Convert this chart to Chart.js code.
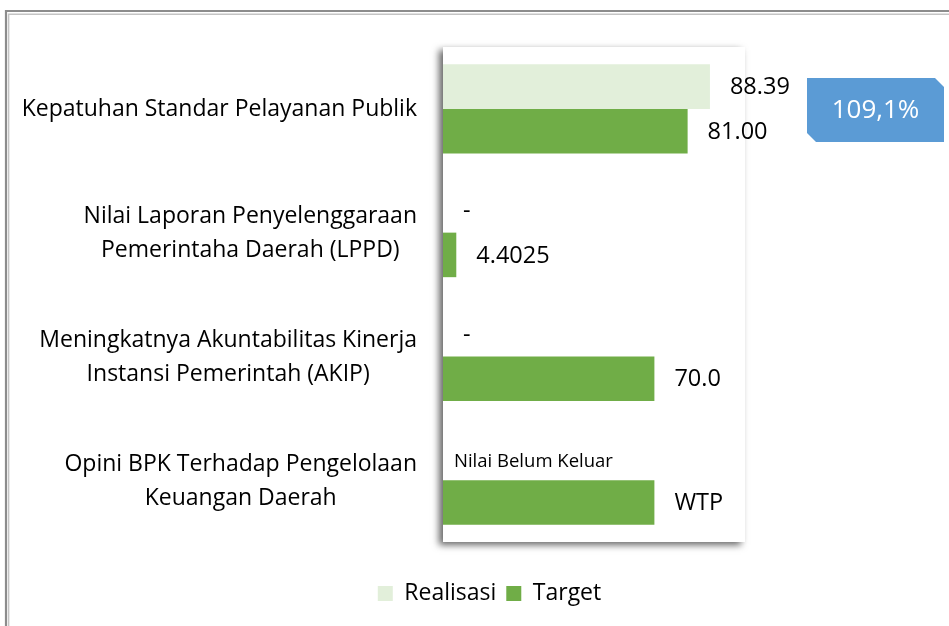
<!DOCTYPE html>
<html>
<head>
<meta charset="utf-8">
<script src="https://cdn.jsdelivr.net/npm/chart.js@4"></script>
<style>
  body { margin: 0; background: #fff; }
  #wrap { width: 949px; height: 626px; position: relative; }
</style>
</head>
<body>
<div id="wrap"><canvas id="chart"></canvas></div>
<script>
let categories = [
    ['Kepatuhan Standar Pelayanan Publik'],
    ['Nilai Laporan Penyelenggaraan', 'Pemerintaha Daerah (LPPD)'],
    ['Meningkatnya Akuntabilitas Kinerja', 'Instansi Pemerintah (AKIP)'],
    ['Opini BPK Terhadap Pengelolaan', 'Keuangan Daerah']
];
let realisasiValues = [88.39, 0, 0, 0];
let targetValues = [81, 4.4025, 70, 70];
let realisasiLabels = ['88.39', '-', '-', 'Nilai Belum Keluar'];
let targetLabels = ['81.00', '4.4025', '70.0', 'WTP'];
let achievement = '109,1%';

let fontName = "'Open Sans', 'Noto Sans', sans-serif";

// outer frame + shaded plot panel
let framePlugin = {
    id: 'frame',
    beforeDraw(chart) {
        let ctx = chart.ctx;
        ctx.save();
        ctx.lineCap = 'round';
        ctx.strokeStyle = '#8c8c8c';
        ctx.lineWidth = 2.2;
        ctx.beginPath();
        ctx.moveTo(6, 640);
        ctx.lineTo(6, 11);
        ctx.lineTo(960, 11);
        ctx.stroke();
        ctx.strokeStyle = '#c4c4c4';
        ctx.lineWidth = 1.5;
        ctx.beginPath();
        ctx.moveTo(8.6, 640);
        ctx.lineTo(8.6, 14.2);
        ctx.lineTo(960, 14.2);
        ctx.stroke();
        ctx.restore();
    },
    beforeDatasetsDraw(chart) {
        let ctx = chart.ctx;
        let a = chart.chartArea;
        ctx.save();
        ctx.shadowColor = 'rgba(0,0,0,0.6)';
        ctx.shadowBlur = 7;
        ctx.shadowOffsetX = -4;
        ctx.shadowOffsetY = 3;
        ctx.fillStyle = '#fff';
        ctx.fillRect(a.left, a.top, a.right - a.left, a.bottom - a.top);
        ctx.restore();
    }
};

// value labels, category labels and the callout
let labelPlugin = {
    id: 'labels',
    afterDatasetsDraw(chart) {
        let ctx = chart.ctx;
        ctx.save();
        ctx.fillStyle = '#000';
        ctx.textBaseline = 'middle';
        ctx.textAlign = 'left';
        let sets = [realisasiLabels, targetLabels];
        sets.forEach((labels, di) => {
            let meta = chart.getDatasetMeta(di);
            meta.data.forEach((bar, i) => {
                let txt = labels[i];
                let small = txt.length > 8;
                ctx.font = (small ? '18.5px ' : '23.5px ') + fontName;
                let off = small ? 11 : 20;
                ctx.fillText(txt, bar.x + off, bar.y + (small ? 4 : 1));
            });
        });

        // category labels: block right aligned, lines centred in block
        let y = chart.scales.y;
        let right = chart.chartArea.left - 26;
        ctx.font = '23px ' + fontName;
        ctx.textAlign = 'center';
        categories.forEach((lines, i) => {
            let w = Math.max(...lines.map(l => ctx.measureText(l).width));
            let cx = right - w / 2;
            let cy = y.getPixelForTick(i) + 1;
            let lh = 34;
            lines.forEach((l, k) => {
                ctx.fillText(l, cx, cy + (k - (lines.length - 1) / 2) * lh);
            });
        });

        // callout box
        let bx = chart.chartArea.right + 62;
        let bw = 137, bh = 64, c = 9;
        let by = y.getPixelForTick(0) + 1 - bh / 2;
        ctx.fillStyle = '#5b9bd5';
        ctx.beginPath();
        ctx.moveTo(bx, by);
        ctx.lineTo(bx + bw - c, by);
        ctx.lineTo(bx + bw, by + c);
        ctx.lineTo(bx + bw, by + bh);
        ctx.lineTo(bx + c, by + bh);
        ctx.lineTo(bx, by + bh - c);
        ctx.closePath();
        ctx.fill();
        ctx.fillStyle = '#fff';
        ctx.font = '26px ' + fontName;
        ctx.fillText(achievement, bx + bw / 2, by + bh / 2 + 1);
        ctx.restore();
    }
};

chart = new Chart(document.getElementById('chart'), {
    type: 'bar',
    data: {
        labels: categories,
        datasets: [{
            label: 'Realisasi',
            data: realisasiValues,
            backgroundColor: '#e2efda',
            categoryPercentage: 0.72,
            barPercentage: 1
        }, {
            label: 'Target',
            data: targetValues,
            backgroundColor: '#70ad47',
            categoryPercentage: 0.72,
            barPercentage: 1
        }]
    },
    options: {
        indexAxis: 'y',
        responsive: true,
        maintainAspectRatio: false,
        animation: false,
        layout: { padding: { left: 30, right: 0, top: 47, bottom: 11 } },
        scales: {
            x: {
                min: 0,
                max: 100,
                grid: { display: false },
                border: { display: false },
                ticks: { callback: () => '' },
                afterFit(s) { s.height = 30; }
            },
            y: {
                grid: { display: false },
                border: { display: false },
                ticks: { callback: () => '' },
                afterFit(s) { s.width = 413; }
            },
            y2: {
                position: 'right',
                grid: { display: false },
                border: { display: false },
                ticks: { display: false },
                afterFit(s) { s.width = 204; }
            }
        },
        plugins: {
            legend: {
                position: 'bottom',
                labels: {
                    boxWidth: 15,
                    boxHeight: 15,
                    padding: 10,
                    color: '#000',
                    font: { family: fontName, size: 23 }
                }
            },
            tooltip: { enabled: false }
        }
    },
    plugins: [framePlugin, labelPlugin]
});
</script>
</body>
</html>
